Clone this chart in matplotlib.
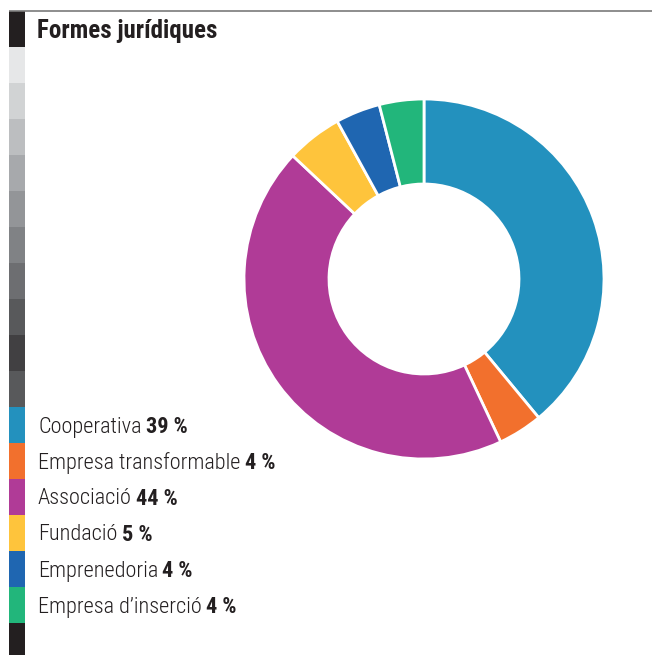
import matplotlib
matplotlib.use("Agg")
import matplotlib.pyplot as plt
from matplotlib import font_manager

# data
labels = ["Cooperativa", "Empresa transformable", "Associació", "Fundació",
          "Emprenedoria", "Empresa d\u2019inserció"]
shares = [39, 4, 44, 5, 4, 4]
colors = ["#2391be", "#f2702d", "#b03b97", "#fec43c", "#1f66b1", "#22b67b"]
title = "Formes jurídiques"

# side strip (decorative blocks, top to bottom)
strip_colors = ["#231f20", "#e6e7e8", "#d1d3d4", "#bcbec0", "#a7a9ac", "#939598",
                "#808285", "#6d6e71", "#58595b", "#414042", "#58595b"] + colors + ["#231f20"]

names = {f.name for f in font_manager.fontManager.ttflist}
narrow = [n for n in ["Liberation Sans Narrow", "Roboto Condensed", "DejaVu Sans"] if n in names]
plt.rcParams["font.family"] = narrow + ["DejaVu Sans"]
plt.rcParams["font.stretch"] = "condensed"

W, H = 652, 655
fig = plt.figure(figsize=(W / 100, H / 100), dpi=100)

# overlay axes in pixel coords
bg = fig.add_axes([0, 0, 1, 1])
bg.set_xlim(0, W)
bg.set_ylim(H, 0)
bg.axis("off")

bg.plot([9, W], [10.5, 10.5], color="#7a7a7a", lw=1.2, solid_capstyle="butt")
seg = 36
for i, c in enumerate(strip_colors):
    bg.bar(17, seg, width=16, bottom=11 + i * seg, color=c, linewidth=0)

bg.text(37, 31, title, fontsize=18, fontweight="black", color="#231f20",
        va="center", ha="left", fontstretch="condensed")

for i, (lab, sh) in enumerate(zip(labels, shares)):
    y = 11 + (11 + i) * seg + seg / 2 + 2
    t = bg.text(38, y, lab, fontsize=16, fontweight="light", color="#231f20",
                va="center", ha="left", fontstretch="condensed")
    bg.annotate(f"{sh} %", xy=(1, 0.5), xycoords=t, xytext=(3, 0),
                textcoords="offset points", fontsize=16, fontweight="bold",
                color="#231f20", va="center", ha="left", fontstretch="condensed")

# donut
cx, cy, r = 424, 279, 180
pax = fig.add_axes([(cx - r) / W, 1 - (cy + r) / H, 2 * r / W, 2 * r / H])
pax.pie(shares, colors=colors, startangle=90, counterclock=False, radius=1,
        wedgeprops=dict(width=(180 - 95) / 180, edgecolor="white", linewidth=2))
pax.set_xlim(-1, 1)
pax.set_ylim(-1, 1)
pax.set_aspect("auto")
pax.axis("off")

fig.savefig("out.png", dpi=100)
